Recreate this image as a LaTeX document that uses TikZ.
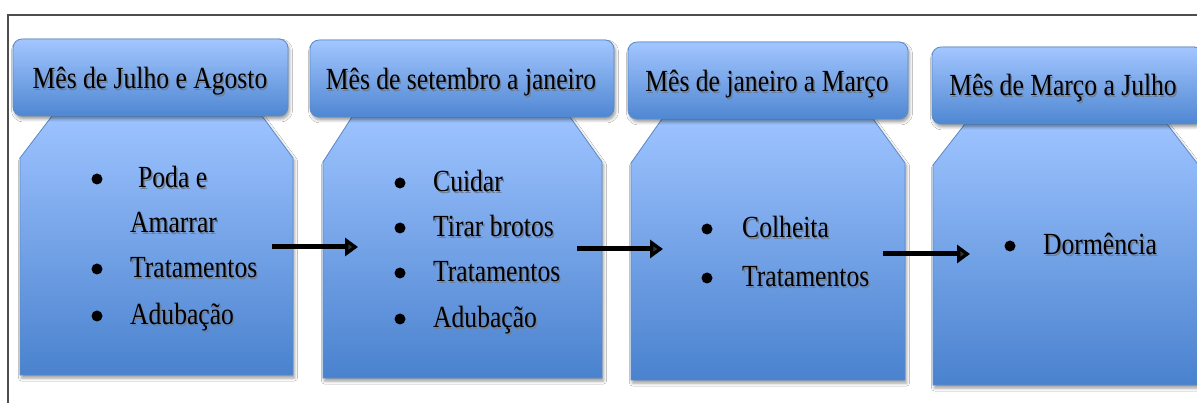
\documentclass[tikz,border=0pt]{standalone}
\usepackage{fontspec}
\setmainfont{Liberation Serif}
\usetikzlibrary{arrows.meta,shadows.blur}
\definecolor{hdtop}{HTML}{A3C6FF}
\definecolor{hdbot}{HTML}{4F87D2}
\definecolor{bdtop}{HTML}{9DC3FF}
\definecolor{bdbot}{HTML}{4A82CE}
\definecolor{edgeblue}{HTML}{5B8BC8}
\definecolor{framegrey}{HTML}{4D4D4D}
\definecolor{txtshadow}{HTML}{6F7F96}
\newcommand{\stxt}[1]{\scalebox{1}[1.2]{\makebox[0pt][l]{\hspace{1.4pt}\raisebox{-1.2pt}{\textcolor{txtshadow}{#1}}}#1}}
\tikzset{
  shd/.style={blur shadow={shadow xshift=1.5pt, shadow yshift=-3pt, shadow blur radius=3pt, shadow opacity=40}},
  hdr/.style={draw=edgeblue, line width=0.8pt, rounded corners=9pt, top color=hdtop, bottom color=hdbot, shd},
  bdy/.style={draw=edgeblue, line width=0.8pt, top color=bdtop, bottom color=bdbot, shd},
  txt/.style={font=\fontsize{25.6}{30}\selectfont, inner sep=0pt, anchor=base west},
  htxt/.style={font=\fontsize{25.6}{30}\selectfont, inner sep=0pt, anchor=base},
  bul/.style={circle, fill=black, inner sep=0pt, minimum size=11pt},
  flow/.style={line width=5pt, -{Triangle[length=13pt,width=18pt]}},
  frameline/.style={draw=framegrey, line width=1.2pt}
}
\begin{document}
\begin{tikzpicture}[x=1pt,y=-1pt]
\useasboundingbox (0,0) rectangle (1197,403);
\clip (0,0) rectangle (1197,403);
\fill[white] (0,0) rectangle (1197,403);
\draw[frameline] (8,403) -- (8,15) -- (1197,15);

% bodies
\path[bdy] (52,116) -- (262,116) -- (293,158) -- (293,375) -- (20,375) -- (20,158) -- cycle;
\path[bdy] (352,117) -- (570,117) -- (602,162) -- (602,378) -- (323,378) -- (323,162) -- cycle;
\path[bdy] (662,119) -- (873,119) -- (905,163) -- (905,380) -- (631,380) -- (631,163) -- cycle;
\path[bdy] (965,124) -- (1167,124) -- (1200,167) -- (1200,385) -- (933,385) -- (933,165) -- cycle;

% headers
\path[hdr] (13,39) rectangle (288,116);
\path[hdr] (310,40) rectangle (614,117);
\path[hdr] (628,42) rectangle (908,119);
\path[hdr] (932,47) rectangle (1203,124);

\node[htxt] (h1) at (150,89) {\stxt{Mês de Julho e Agosto}};
\node[htxt] (h2) at (461,90) {\stxt{Mês de setembro a janeiro}};
\node[htxt] (h3) at (767,92) {\stxt{Mês de janeiro a Março}};
\node[htxt] (h4) at (1063,96) {\stxt{Mês de Março a Julho}};

% box 1 items
\node[bul] (b1a) at (97,179) {};
\node[txt] (t1a) at (138,188) {\stxt{Poda e}};
\node[txt] (t1b) at (130,233) {\stxt{Amarrar}};
\node[bul] (b1c) at (97,269) {};
\node[txt] (t1c) at (130,278) {\stxt{Tratamentos}};
\node[bul] (b1d) at (97,316) {};
\node[txt] (t1d) at (130,325) {\stxt{Adubação}};

% box 2 items
\node[bul] (b2a) at (400,183) {};
\node[txt] (t2a) at (433,192) {\stxt{Cuidar}};
\node[bul] (b2b) at (400,228) {};
\node[txt] (t2b) at (433,237) {\stxt{Tirar brotos}};
\node[bul] (b2c) at (400,273) {};
\node[txt] (t2c) at (433,282) {\stxt{Tratamentos}};
\node[bul] (b2d) at (400,319) {};
\node[txt] (t2d) at (433,328) {\stxt{Adubação}};

% box 3 items
\node[bul] (b3a) at (707,229) {};
\node[txt] (t3a) at (742,238) {\stxt{Colheita}};
\node[bul] (b3b) at (707,278) {};
\node[txt] (t3b) at (742,287) {\stxt{Tratamentos}};

% box 4 items
\node[bul] (b4a) at (1010,246) {};
\node[txt] (t4a) at (1043,255) {\stxt{Dormência}};

% arrows
\coordinate (a1s) at (272,247);
\coordinate (a1e) at (358,247);
\coordinate (a2s) at (577,249);
\coordinate (a2e) at (663,249);
\coordinate (a3s) at (883,254);
\coordinate (a3e) at (970,254);
\draw[flow] (a1s) -- (a1e);
\draw[flow] (a2s) -- (a2e);
\draw[flow] (a3s) -- (a3e);
\end{tikzpicture}
\end{document}
